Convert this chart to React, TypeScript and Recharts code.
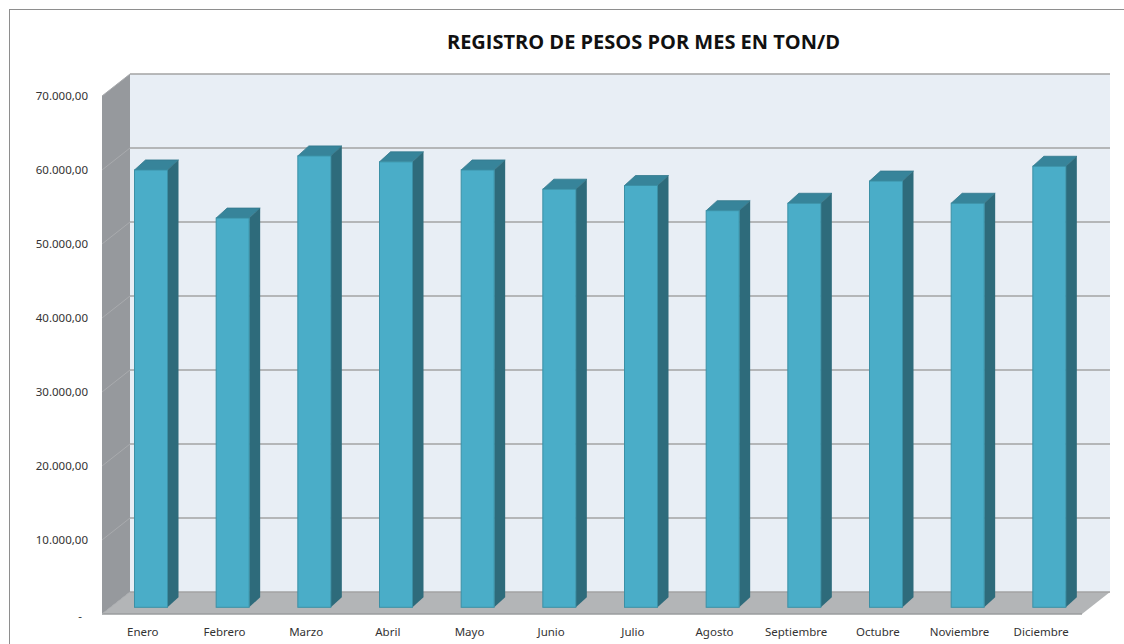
import { BarChart, Bar, XAxis, YAxis, CartesianGrid } from "recharts";

// Monthly weights (ton/d)
const months = [
  "Enero", "Febrero", "Marzo", "Abril", "Mayo", "Junio",
  "Julio", "Agosto", "Septiembre", "Octubre", "Noviembre", "Diciembre",
];
const weights = [
  59100, 52600, 61000, 60200, 59100, 56500,
  57000, 53600, 54600, 57600, 54600, 59600,
];
const yTicks = [0, 10000, 20000, 30000, 40000, 50000, 60000, 70000];

const data = months.map((m, i) => ({ month: m, peso: weights[i] }));

// pseudo-3D geometry (pixels)
const WALL_DX = 28;
const WALL_DY = 22;
const BAR_DX = 8.5;
const BAR_DY = 6.7;
const BAR_DEPTH_X = 11;
const BAR_DEPTH_Y = 10;

const FONT = "'Noto Sans', 'Open Sans', sans-serif";

function fmt(v: number): string {
  if (v === 0) return "-";
  const s = Math.round(v).toString().replace(/\B(?=(\d{3})+(?!\d))/g, ".");
  return s + ",00";
}

/** gridline on back wall + diagonal on side wall; the first one also paints the walls */
function WallLine(props: any): React.ReactElement {
  const { x1, x2, y1, index, y, height } = props;
  const walls =
    index === 0 && typeof y === "number" && typeof height === "number" ? (
      <g>
        <polygon
          points={`${x1 + WALL_DX},${y - WALL_DY} ${x2 + WALL_DX},${y - WALL_DY} ${x2 + WALL_DX},${y + height - WALL_DY} ${x1 + WALL_DX},${y + height - WALL_DY}`}
          fill="#e8eef5"
        />
        <polygon
          points={`${x1},${y} ${x1 + WALL_DX},${y - WALL_DY} ${x1 + WALL_DX},${y + height - WALL_DY} ${x1},${y + height}`}
          fill="#96999d"
        />
        <polygon
          points={`${x1},${y + height} ${x1 + WALL_DX},${y + height - WALL_DY} ${x2 + WALL_DX},${y + height - WALL_DY} ${x2},${y + height}`}
          fill="#b3b5b7"
        />
        <line x1={x1} y1={y + height} x2={x2} y2={y + height} stroke="#9a9c9e" strokeWidth={1.5} />
      </g>
    ) : null;
  return (
    <g>
      {walls}
      <line
        x1={x1}
        y1={y1}
        x2={x1 + WALL_DX}
        y2={y1 - WALL_DY}
        stroke="#a9abae"
        strokeWidth={1}
      />
      <line
        x1={x1 + WALL_DX}
        y1={y1 - WALL_DY}
        x2={x2 + WALL_DX}
        y2={y1 - WALL_DY}
        stroke="#a3a3a3"
        strokeWidth={1.6}
      />
    </g>
  );
}

function Column3D(props: any): React.ReactElement | null {
  const { x, y, width, height } = props;
  if (!height || height <= 0) return null;
  const fx = x + BAR_DX;
  const fy = y - BAR_DY;
  const d = BAR_DEPTH_X;
  const e = BAR_DEPTH_Y;
  return (
    <g>
      <polygon
        points={`${fx},${fy} ${fx + d},${fy - e} ${fx + width + d},${fy - e} ${fx + width},${fy}`}
        fill="#37849a"
        stroke="#32798d"
        strokeWidth={0.8}
      />
      <polygon
        points={`${fx + width},${fy} ${fx + width + d},${fy - e} ${fx + width + d},${fy + height - e} ${fx + width},${fy + height}`}
        fill="#2e6b7b"
      />
      <rect x={fx} y={fy} width={width} height={height} fill="#4aadc8" stroke="#3b90a6" strokeWidth={1} />
    </g>
  );
}

function YTick(props: any): React.ReactElement {
  const { x, y, payload } = props;
  const zero = payload.value === 0;
  return (
    <text
      x={zero ? x - 8 : x}
      y={zero ? y + 2 : y}
      dy="0.35em"
      textAnchor={zero ? "middle" : "end"}
      fontFamily={FONT}
      fontSize={11.5}
      fill="#333"
    >
      {fmt(payload.value)}
    </text>
  );
}

function XTick(props: any): React.ReactElement {
  const { x, y, payload } = props;
  return (
    <text x={x} y={y + 22} textAnchor="middle" fontFamily={FONT} fontSize={11.5} fill="#333">
      {payload.value}
    </text>
  );
}

export default function App(): React.ReactElement {
  return (
    <div style={{ position: "relative", width: 1124, height: 644, overflow: "hidden", background: "#fff" }}>
      <style>{"body{margin:0;overflow:hidden;background:#fff}"}</style>
      <div
        style={{
          position: "absolute",
          left: 9,
          top: 9,
          width: 1200,
          height: 700,
          border: "1.5px solid #8e8e8e",
          boxSizing: "border-box",
        }}
      />
      <div
        style={{
          position: "absolute",
          left: 0,
          width: 1287,
          top: 28,
          textAlign: "center",
          fontFamily: "'Open Sans', sans-serif",
          fontWeight: 700,
          fontSize: 20,
          lineHeight: "28px",
          color: "#111",
        }}
      >
        REGISTRO DE PESOS POR MES EN TON/D
      </div>
      <div style={{ position: "absolute", left: 0, top: 0 }}>
        <BarChart
          width={1124}
          height={644}
          data={data}
          margin={{ top: 96, right: 42, bottom: 0, left: 12 }}
        >
          <CartesianGrid vertical={false} horizontal={(p: any) => <WallLine {...p} />} />
          <XAxis
            dataKey="month"
            axisLine={false}
            tickLine={false}
            tickSize={0}
            tickMargin={0}
            height={30}
            interval={0}
            tick={<XTick />}
          />
          <YAxis
            type="number"
            domain={[0, 70000]}
            ticks={yTicks}
            axisLine={false}
            tickLine={false}
            tickSize={0}
            tickMargin={14}
            width={90}
            tick={<YTick />}
          />
          <Bar dataKey="peso" barSize={33} shape={<Column3D />} isAnimationActive={false} />
        </BarChart>
      </div>
    </div>
  );
}
